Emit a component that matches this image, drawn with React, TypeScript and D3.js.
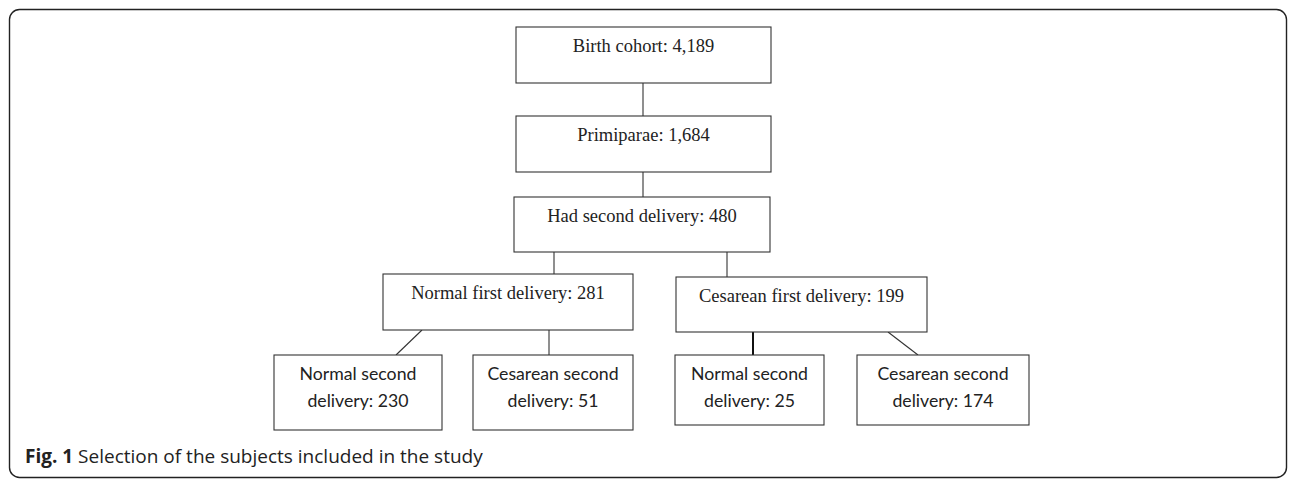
import * as d3 from 'd3';

// flowchart content
const nodeLabels = [
  'Birth cohort',
  'Primiparae',
  'Had second delivery',
  'Normal first delivery',
  'Cesarean first delivery',
  'Normal second delivery',
  'Cesarean second delivery',
  'Normal second delivery',
  'Cesarean second delivery',
];
const nodeCounts = [4189, 1684, 480, 281, 199, 230, 51, 25, 174];
const nodeLevels = [0, 1, 2, 3, 3, 4, 4, 4, 4];
const links: [number, number][] = [
  [0, 1], [1, 2], [2, 3], [2, 4], [3, 5], [3, 6], [4, 7], [4, 8],
];
const captionBold = 'Fig. 1';
const captionText = ' Selection of the subjects included in the study';

const boxes = [
  { x0: 516, y0: 27, x1: 771, y1: 83 },
  { x0: 516, y0: 116, x1: 771, y1: 172 },
  { x0: 514, y0: 197, x1: 770, y1: 252 },
  { x0: 383, y0: 274, x1: 633, y1: 330 },
  { x0: 676, y0: 277, x1: 927, y1: 332 },
  { x0: 274, y0: 355, x1: 442, y1: 430 },
  { x0: 473, y0: 355, x1: 633, y1: 430 },
  { x0: 675, y0: 355, x1: 824, y1: 425 },
  { x0: 857, y0: 355, x1: 1029, y1: 425 },
];
// x where each link leaves its source and enters its target
const linkX: [number, number][] = [
  [643, 643], [643, 643], [554, 554], [727, 727],
  [422, 396], [549, 549], [753, 753], [888, 918],
];

const W = 1296;
const H = 480;
const fmt = d3.format(',');
const stroke = '#333';

export default function App() {
  const line = d3.line<[number, number]>();

  return (
    <svg width={W} height={H} style={{ position: 'absolute', left: 0, top: 0, background: '#fff' }}>
      <rect x={9.5} y={9.5} width={1277} height={468} rx={10} fill="none" stroke="#222" strokeWidth={1.4} />

      {links.map(([s, t], i) => (
        <path
          key={i}
          d={line([[linkX[i][0], boxes[s].y1], [linkX[i][1], boxes[t].y0]]) ?? ''}
          stroke={i === 6 ? '#111' : stroke}
          strokeWidth={i === 6 ? 2 : 1.1}
          fill="none"
        />
      ))}

      {nodeLabels.map((label, i) => {
        const b = boxes[i];
        const cx = (b.x0 + b.x1) / 2;
        const leaf = nodeLevels[i] === 4;
        const words = label.split(' ');
        return (
          <g key={i}>
            <rect x={b.x0} y={b.y0} width={b.x1 - b.x0} height={b.y1 - b.y0} fill="#fff" stroke={stroke} strokeWidth={1.1} />
            {leaf ? (
              <text textAnchor="middle" fontFamily="Lato, 'Open Sans', sans-serif" fontSize={17.7} fill="#222">
                <tspan x={cx} y={b.y0 + 25}>{words.slice(0, -1).join(' ')}</tspan>
                <tspan x={cx} y={b.y0 + 52}>{`${words[words.length - 1]}: ${fmt(nodeCounts[i])}`}</tspan>
              </text>
            ) : (
              <text x={cx} y={b.y0 + 24.5} textAnchor="middle" fontFamily="'Liberation Serif', 'Times New Roman', serif" fontSize={18.5} fill="#222">
                {`${label}: ${fmt(nodeCounts[i])}`}
              </text>
            )}
          </g>
        );
      })}

      <text x={25} y={463} fontFamily="'Open Sans', sans-serif" fontSize={19} fill="#222">
        <tspan fontWeight="bold">{captionBold}</tspan>
        <tspan>{captionText}</tspan>
      </text>
    </svg>
  );
}
